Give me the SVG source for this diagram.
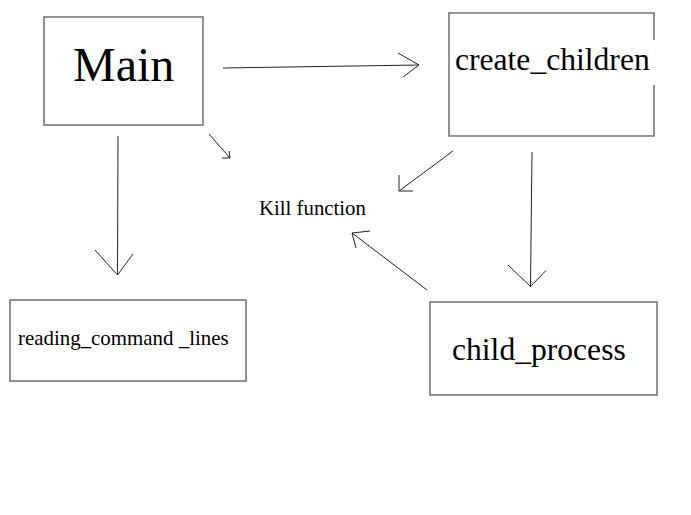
<svg xmlns="http://www.w3.org/2000/svg" width="691" height="515" viewBox="0 0 691 515">
<style>
.box{fill:none;stroke:#767676;stroke-width:1.6}
.lbl{font-family:"Liberation Serif","Times New Roman",serif;fill:#000}
.c{fill:none;stroke:#222;stroke-width:1}
</style>
<rect width="691" height="515" fill="#fff"/>
<g id="main">
<rect class="box" x="44" y="17" width="159" height="108"/>
<text class="lbl" x="73" y="81" font-size="48">Main</text>
</g>
<g id="create_children">
<path class="box" d="M654,40 V13 H449 V136 H654 V85"/>
<text class="lbl" x="455" y="70" font-size="31.6">create_children</text>
</g>
<g id="kill_function">
<text class="lbl" x="259" y="215" font-size="20.8">Kill function</text>
</g>
<g id="reading_command_lines">
<rect class="box" x="10" y="300" width="236" height="81"/>
<text class="lbl" x="18" y="345" font-size="20.9">reading_command _lines</text>
</g>
<g id="child_process">
<rect class="box" x="430" y="302" width="227" height="93"/>
<text class="lbl" x="452" y="360" font-size="31.6">child_process</text>
</g>
<g id="connectors">
<path class="c" d="M223,68 L419,65 M398,53 L419,65 L403,77"/>
<path class="c" d="M118,136 L117.5,275 M95,250 L117.5,275 L133,254"/>
<path class="c" d="M209,134 L230,158 M229,151 L230,158 L222,158"/>
<path class="c" d="M453,151 L399,191 M399,175 L399,191 L413,191"/>
<path class="c" d="M427,290 L352,233 M370,231 L352,233 L356,248"/>
<path class="c" d="M532,152 L530.5,286.5 M508,265 L530.5,286.5 L546,270.5"/>
</g>
</svg>
